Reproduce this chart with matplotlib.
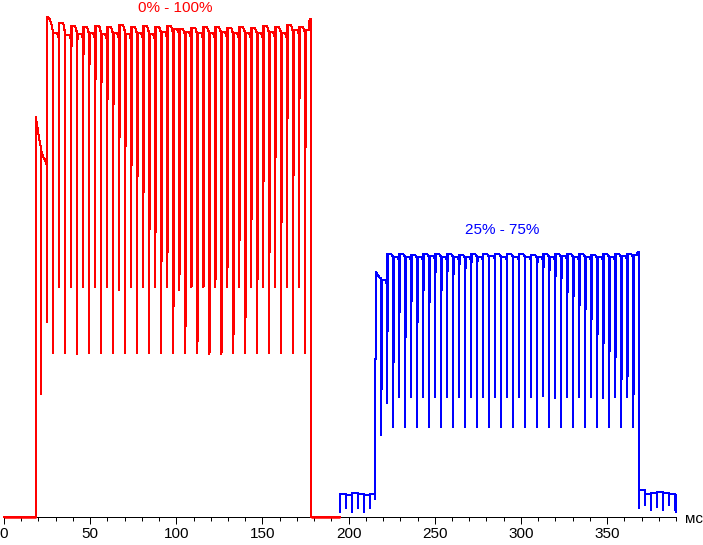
import numpy as np
import matplotlib

matplotlib.use("Agg")
import matplotlib.pyplot as plt
from matplotlib.ticker import MultipleLocator

plt.rcParams["font.family"] = ["Liberation Sans", "DejaVu Sans"]

# --- veri (x: мс, y: parlaklik, 0 = eksen) ---
# 0% -> 100% gecisi (kirmizi)
red_onset_x = [0, 18.3, 18.3, 19.0, 19.9, 20.9, 21.6, 21.6, 21.6, 21.9, 22.8, 23.8,
               24.8, 25.1, 25.1, 25.1, 25.7, 26.7, 27.3, 27.9, 28.5]
red_onset_y = [0, 0, 400, 394, 384, 374, 368, 123, 368, 364, 360, 357,
               352, 351, 195, 500, 500, 497, 494, 490, 484]
red_dip_x = [28.6, 32.1, 35.6, 39.1, 42.5, 46.0, 49.5, 53.0, 56.5, 59.9, 63.4,
             66.9, 70.4, 73.9, 77.3, 80.8, 84.3, 87.8, 91.3, 94.8, 98.2, 101.7,
             105.2, 108.7, 112.2, 115.7, 119.1, 122.6, 126.1, 129.6, 133.1, 136.5,
             140.0, 143.5, 147.0, 150.5, 153.9, 157.4, 160.9, 164.4, 167.9, 171.4, 174.8]
red_low = [164, 230, 164, 230, 163, 230, 164, 230, 164, 230, 164, 227, 164, 230,
           164, 230, 164, 230, 164, 230, 164, 227, 164, 230, 164, 230, 163, 230,
           163, 230, 164, 230, 164, 230, 164, 230, 164, 230, 164, 230, 164, 230, 164]
red_env = [484, 494, 482, 470, 477, 462, 452, 437, 434, 417, 412, 379, 370, 351,
           340, 324, 287, 284, 255, 264, 210, 242, 190, 230, 175, 230, 164, 237,
           164, 249, 182, 276, 199, 297, 237, 335, 264, 359, 294, 398, 341, 418, 369]
red_top_a = [484, 494, 482, 491, 483, 490, 484, 491, 483, 490, 484, 492, 483, 490,
             484, 491, 483, 490, 485, 491, 488, 488, 485, 489, 484, 490, 484, 490,
             485, 489, 484, 490, 484, 489, 484, 491, 485, 490, 484, 492, 487, 490, 487]
red_top_b = [480, 487, 479, 486, 480, 485, 480, 486, 479, 485, 480, 487, 479, 485,
             480, 486, 479, 486, 481, 486, 485, 484, 481, 485, 480, 486, 480, 486,
             481, 485, 480, 486, 480, 485, 480, 486, 481, 486, 480, 487, 484, 486, 498]
red_drop_x = 178.0
red_end_x = 195.2

# 25% -> 75% gecisi (mavi)
blue_pre_x = [195.2, 198.3, 201.8, 205.3, 208.8, 212.2]
blue_pre_low = [5, 9, 5, 9, 5, 9]
blue_pre_top = [23, 22, 24, 23, 22, 23]
blue_rise_x = [215.5, 215.5, 215.5, 216.1, 216.1, 217.0, 218.0]
blue_rise_y = [23, 18, 158, 158, 245, 242, 239]
blue_dip_x = [219.0, 222.5, 226.0, 229.4, 232.9, 236.4, 239.9, 243.4, 246.9, 250.3,
              253.8, 257.3, 260.8, 264.3, 267.7, 271.2, 274.7, 278.2, 281.7, 285.2,
              288.6, 292.1, 295.6, 299.1, 302.6, 306.1, 309.5, 313.0, 316.5, 320.0,
              323.5, 326.9, 330.4, 333.9, 337.4, 340.9, 344.4, 347.8, 351.3, 354.8,
              358.3, 361.8, 365.2]
blue_low = [82, 114, 90, 120, 90, 120, 90, 120, 90, 120, 90, 120, 90, 120, 90,
            120, 90, 120, 90, 120, 90, 120, 90, 120, 90, 120, 90, 121, 90, 119,
            90, 120, 90, 120, 90, 120, 90, 119, 90, 120, 90, 120, 90]
blue_env = [127, 185, 154, 204, 179, 215, 194, 226, 214, 244, 226, 245, 242, 252,
            248, 254, 255, 262, 260, 263, 260, 263, 260, 263, 260, 263, 254, 249,
            246, 240, 238, 224, 220, 211, 207, 197, 182, 173, 165, 159, 137, 140, 122]
blue_top_a = [237, 263, 260, 263, 260, 262, 260, 263, 261, 263, 260, 263, 260, 262,
              260, 263, 260, 263, 261, 263, 260, 263, 260, 263, 260, 262, 260, 263,
              260, 263, 261, 263, 260, 263, 260, 262, 260, 263, 260, 263, 261, 263, 262]
blue_top_b = [234, 261, 258, 261, 258, 260, 258, 261, 259, 261, 258, 261, 258, 260,
              258, 261, 258, 261, 259, 261, 258, 261, 258, 261, 258, 260, 258, 261,
              258, 261, 259, 261, 258, 261, 258, 260, 258, 261, 258, 261, 259, 261, 265]
blue_drop_x = [368.3, 368.3, 368.7, 368.7, 368.7]
blue_drop_y = [265, 110, 110, 9, 27]
blue_post_x = [371.8, 375.3, 378.8, 382.3, 385.8, 389.3]
blue_post_low = [12, 7, 10, 7, 12, 7]
blue_post_top = [23, 24, 25, 24, 23, 22]
blue_end_x = 389.8

LW = 0.72        # 1 piksel
LW_THICK = 1.44  # 2 piksel (hizli gecis kenari)


def pwm_part(xs, lows, top_a, top_b, next_x, prev):
    px, py = [], []
    for k, x in enumerate(xs):
        nx = xs[k + 1] if k + 1 < len(xs) else next_x
        px += [x, x, x, nx - 1.2, nx - 0.6, nx]
        py += [prev, lows[k], top_a[k], top_a[k], top_b[k], top_b[k]]
        prev = top_b[k]
    return px, py


def noise_part(xs, lows, tops, next_x, prev):
    px, py = [], []
    for k, x in enumerate(xs):
        nx = xs[k + 1] if k + 1 < len(xs) else next_x
        px += [x, x, x, nx]
        py += [prev, lows[k], tops[k], tops[k]]
        prev = tops[k]
    return px, py


def draw_edges(ax, xs, envs, top_a, color):
    # kalin kisim: env seviyesinden ust seviyeye kadar
    for x, e, t in zip(xs, envs, top_a):
        if e < t - 1:
            ax.plot([x + 0.29, x + 0.29], [e, t], color=color, lw=LW_THICK,
                    antialiased=False, solid_capstyle="butt", zorder=3)


# kirmizi iz
rx, ry = list(red_onset_x), list(red_onset_y)
a, b = pwm_part(red_dip_x, red_low, red_top_a, red_top_b, red_drop_x, ry[-1])
rx += a + [red_drop_x, red_end_x]
ry += b + [0, 0]

# mavi iz
bx, by = noise_part(blue_pre_x, blue_pre_low, blue_pre_top, blue_rise_x[0], blue_pre_low[0])
bx += blue_rise_x
by += blue_rise_y
a, b = pwm_part(blue_dip_x, blue_low, blue_top_a, blue_top_b, blue_drop_x[0], by[-1])
bx += a + blue_drop_x
by += b + blue_drop_y
a, b = noise_part(blue_post_x, blue_post_low, blue_post_top, blue_end_x, by[-1])
bx += a + [blue_end_x]
by += b + [blue_post_low[0] - 7]

fig = plt.figure(figsize=(7.03, 5.45), dpi=100)
ax = fig.add_axes([4 / 703, 28 / 545, 672 / 703, 517 / 545])
ax.set_xlim(0, 390)
ax.set_ylim(0, 517)

ax.plot(rx, ry, color="#ff0000", lw=LW, antialiased=False, clip_on=False, zorder=3)
ax.plot(bx, by, color="#0000ff", lw=LW, antialiased=False, clip_on=False, zorder=3)
draw_edges(ax, red_dip_x, red_env, red_top_a, "#ff0000")
draw_edges(ax, blue_dip_x, blue_env, blue_top_a, "#0000ff")
# sifir seviyesindeki kirmizi taban (kalin)
ax.plot([red_onset_x[0], red_onset_x[1]], [0, 0], color="#ff0000", lw=1.8,
        clip_on=False, zorder=4, solid_capstyle="butt")
ax.plot([red_drop_x, red_end_x], [0, 0], color="#ff0000", lw=1.8,
        clip_on=False, zorder=4, solid_capstyle="butt")

ax.text(99.5, 505, "0% - 100%", color="#ff0000", ha="center", va="baseline", fontsize=11)
ax.text(289.3, 283, "25% - 75%", color="#0000ff", ha="center", va="baseline", fontsize=11)

for s in ("left", "top", "right"):
    ax.spines[s].set_visible(False)
ax.spines["bottom"].set_linewidth(0.72)
ax.set_yticks([])
ax.xaxis.set_major_locator(MultipleLocator(50))
ax.xaxis.set_minor_locator(MultipleLocator(10))
ax.set_xticks(np.arange(0, 351, 50))
ax.tick_params(axis="x", which="major", length=5, width=0.72, pad=2, labelsize=11)
ax.tick_params(axis="x", which="minor", length=3, width=0.72)
ax.patch.set_visible(False)

fig.text(685 / 703, 26 / 545, "мс", ha="left", va="center", fontsize=11)

fig.savefig("out.png", dpi=100)
